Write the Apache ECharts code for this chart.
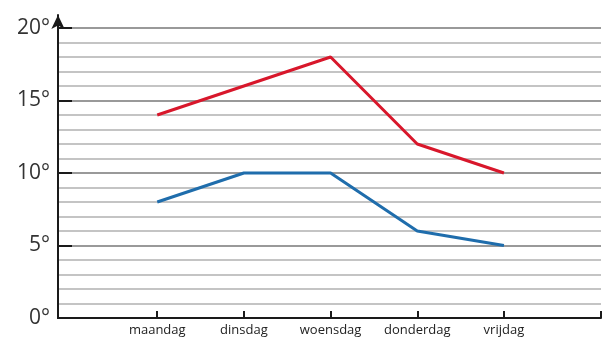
<!DOCTYPE html>
<html>
<head>
<meta charset="utf-8">
<script src="https://cdn.jsdelivr.net/npm/echarts@6/dist/echarts.min.js"></script>
<style>
    html, body { margin: 0; padding: 0; background: #fff; }
    #chart { width: 611px; height: 341px; }
</style>
</head>
<body>
<div id="chart"></div>
<script>
    var days = ['maandag', 'dinsdag', 'woensdag', 'donderdag', 'vrijdag'];
    var redTemps = [14, 16, 18, 12, 10];
    var blueTemps = [8, 10, 10, 6, 5];
    var yLabelValues = [0, 5, 10, 15, 20];

    var lineColors = ['#d8172b', '#1f6dac'];

    function toPoints(values) {
        return values.map(function (v, i) { return [i, v]; });
    }

    var chart = echarts.init(document.getElementById('chart'));
    var option = {
        animation: false,
        grid: [
            { left: 58, right: 10, top: 28, bottom: 23 },
            // only used for the arrow on top of the y axis
            { left: 58, right: 10, top: 15, bottom: 23 }
        ],
        xAxis: [
            {
                type: 'value',
                gridIndex: 0,
                min: -1.145,
                max: 5.12,
                axisLine: { show: true, onZero: false, lineStyle: { color: '#1a1a1a', width: 2 } },
                axisTick: {
                    show: true,
                    inside: true,
                    length: 7,
                    customValues: [0, 1, 2, 3, 4, 5.12],
                    lineStyle: { color: '#1a1a1a', width: 2 }
                },
                axisLabel: {
                    customValues: [0, 1, 2, 3, 4],
                    formatter: function (v) { return days[Math.round(v)]; },
                    margin: 6,
                    fontSize: 13,
                    color: '#222',
                    fontFamily: 'Open Sans'
                },
                splitLine: { show: false }
            },
            { type: 'value', gridIndex: 1, show: false, min: 0, max: 1 }
        ],
        yAxis: [
            {
                type: 'value',
                gridIndex: 0,
                position: 'left',
                min: 0,
                max: 20,
                interval: 1,
                axisLine: { show: true, onZero: false, lineStyle: { color: '#1a1a1a', width: 2 } },
                axisTick: { show: false },
                axisLabel: { show: false },
                splitLine: {
                    show: true,
                    lineStyle: {
                        color: ['#999999', '#c4c4c4', '#c4c4c4', '#c4c4c4', '#c4c4c4'],
                        width: 2
                    }
                }
            },
            {
                type: 'value',
                gridIndex: 0,
                position: 'left',
                min: 0,
                max: 20,
                interval: 5,
                axisLine: { show: false, onZero: false },
                axisTick: { show: true, inside: true, length: 14, lineStyle: { color: '#1a1a1a', width: 2 } },
                axisLabel: {
                    customValues: yLabelValues,
                    formatter: '{value}°',
                    margin: 8,
                    fontSize: 21,
                    color: '#333',
                    fontFamily: 'Open Sans'
                },
                splitLine: { show: false }
            },
            {
                type: 'value',
                gridIndex: 1,
                min: 0,
                max: 1,
                axisLine: {
                    show: true,
                    onZero: false,
                    symbol: ['none', 'arrow'],
                    symbolSize: [10, 14],
                    lineStyle: { color: '#1a1a1a', width: 2 }
                },
                axisTick: { show: false },
                axisLabel: { show: false },
                splitLine: { show: false }
            }
        ],
        series: [
            {
                name: 'max',
                type: 'line',
                xAxisIndex: 0,
                yAxisIndex: 0,
                data: toPoints(redTemps),
                symbol: 'none',
                lineStyle: { color: lineColors[0], width: 3 },
                z: 5
            },
            {
                name: 'min',
                type: 'line',
                xAxisIndex: 0,
                yAxisIndex: 0,
                data: toPoints(blueTemps),
                symbol: 'none',
                lineStyle: { color: lineColors[1], width: 3 },
                z: 5
            }
        ]
    };
    chart.setOption(option);
</script>
</body>
</html>
